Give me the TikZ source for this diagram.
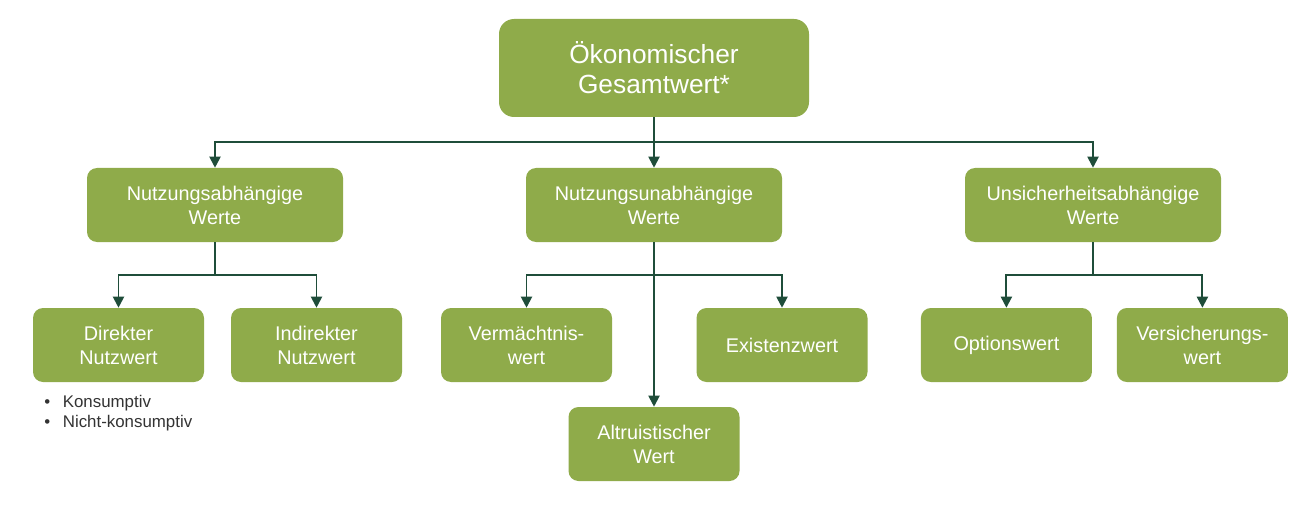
\documentclass[tikz,border=0pt]{standalone}
\usepackage{fontspec}
\setmainfont{Liberation Sans}
\usetikzlibrary{arrows.meta,positioning}

\definecolor{wertgreen}{HTML}{8FAB4A}
\definecolor{linegreen}{HTML}{1F4D3A}
\definecolor{bullettext}{HTML}{333333}

\begin{document}
\begin{tikzpicture}[
    topbox/.style={fill=wertgreen, text=white, rounded corners=0.375cm, minimum width=7.75cm, minimum height=2.45cm, align=center, font=\fontsize{18.7}{21.3}\selectfont},
    group/.style={fill=wertgreen, text=white, rounded corners=0.25cm, minimum width=6.4cm, minimum height=1.85cm, align=center, font=\fontsize{14.1}{17}\selectfont},
    wert/.style={group, minimum width=4.275cm},
    arrow/.style={-{Triangle[length=2.8mm, width=2.8mm]}, line width=1.4pt, linegreen}
]
\useasboundingbox (0,0) rectangle (32.8,-12.65);

% Top
\node[topbox] (gesamt) at (16.35, -1.7) {Ökonomischer\\Gesamtwert*};

% Groups
\node[group] (nutz) at (5.375, -5.125) {Nutzungsabhängige\\Werte};
\node[group] (unab) at (16.35, -5.125) {Nutzungsunabhängige\\Werte};
\node[group] (unsich) at (27.325, -5.125) {Unsicherheitsabhängige\\Werte};

% Values
\node[wert] (direkt) at (2.9625, -8.625) {Direkter\\Nutzwert};
\node[wert] (indirekt) at (7.9125, -8.625) {Indirekter\\Nutzwert};
\node[wert] (verm) at (13.1625, -8.625) {Vermächtnis-\\wert};
\node[wert] (exist) at (19.55, -8.625) {Existenzwert};
\node[wert] (altru) at (16.35, -11.1) {Altruistischer\\Wert};
\node[wert] (option) at (25.16, -8.625) {Optionswert};
\node[wert] (versich) at (30.06, -8.625) {Versicherungs-\\wert};

% Bullet list
\node[anchor=base west, inner sep=0, align=left, text=bullettext, font=\fontsize{12}{14.2}\selectfont] (liste) at (1.1, -10.675) {•\hspace{0.75em}Konsumptiv\\•\hspace{0.75em}Nicht-konsumptiv};

% Connectors top
\draw[arrow] (gesamt.south) -- (unab.north);
\draw[arrow] (gesamt.south) -- ++(0,-0.625) -| (nutz.north);
\draw[arrow] (gesamt.south) -- ++(0,-0.625) -| (unsich.north);

% Connectors groups
\draw[arrow] (nutz.south) -- ++(0,-0.825) -| (direkt.north);
\draw[arrow] (nutz.south) -- ++(0,-0.825) -| (indirekt.north);
\draw[arrow] (unab.south) -- (altru.north);
\draw[arrow] (unab.south) -- ++(0,-0.825) -| (verm.north);
\draw[arrow] (unab.south) -- ++(0,-0.825) -| (exist.north);
\draw[arrow] (unsich.south) -- ++(0,-0.825) -| (option.north);
\draw[arrow] (unsich.south) -- ++(0,-0.825) -| (versich.north);

\end{tikzpicture}
\end{document}
